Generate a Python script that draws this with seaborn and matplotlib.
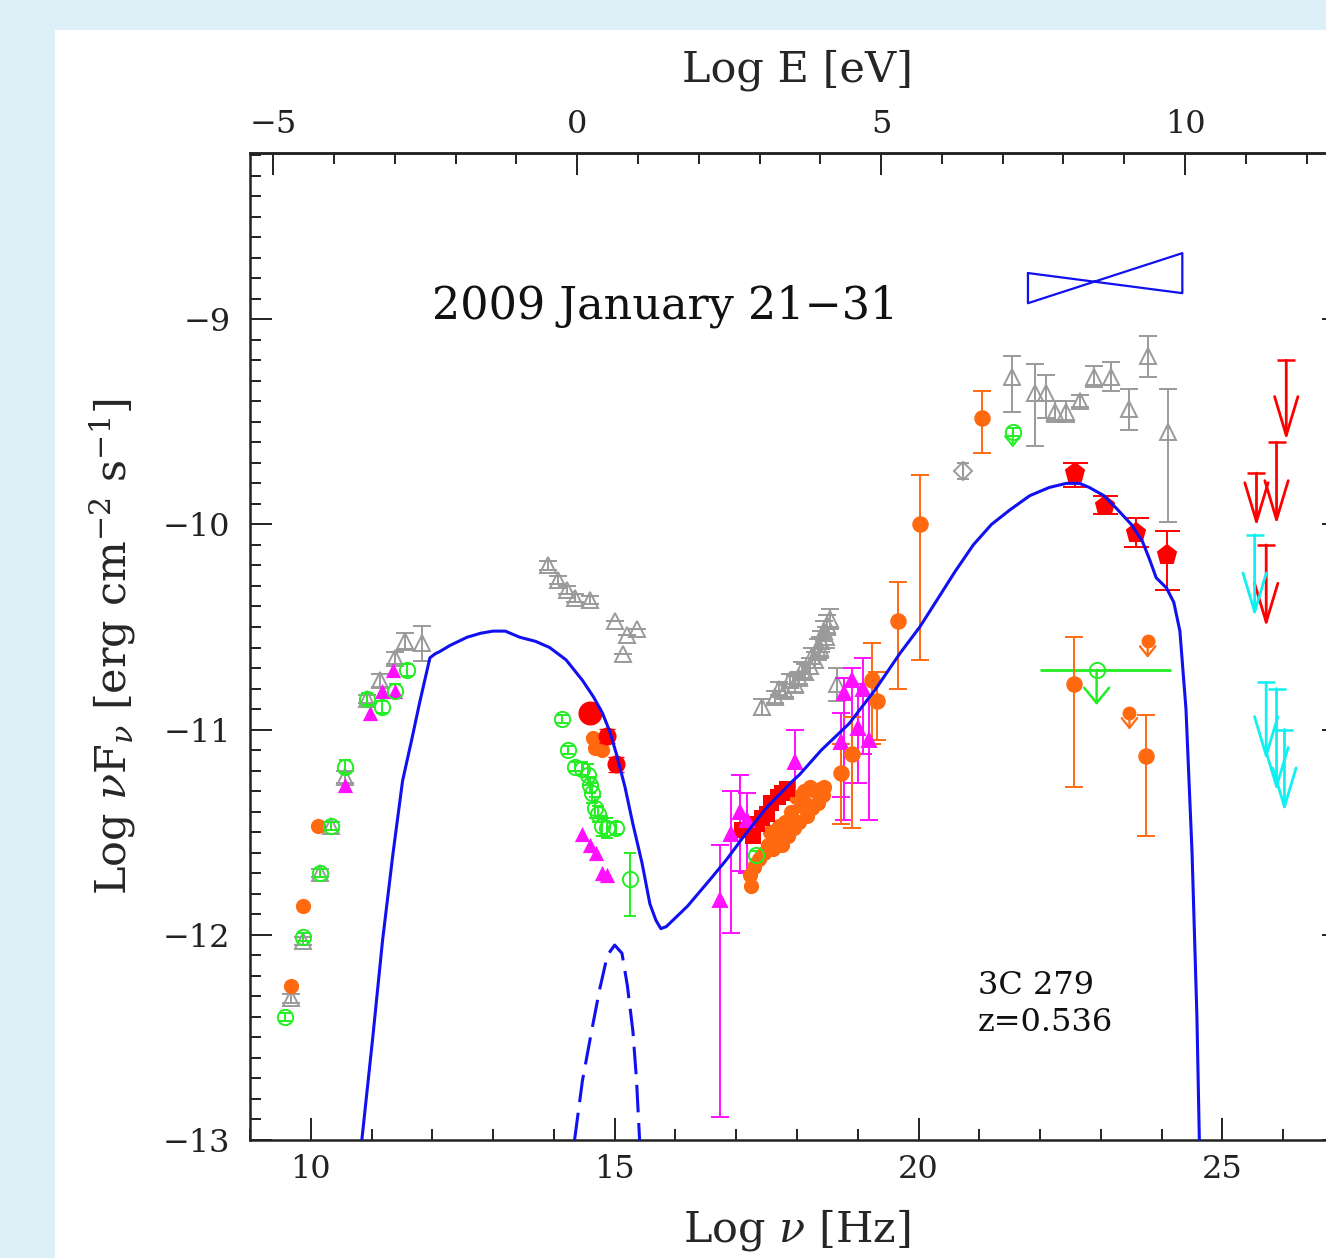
import numpy as np
import matplotlib
matplotlib.use("Agg")
import matplotlib.pyplot as plt
import seaborn as sns
from matplotlib.patches import Rectangle
from matplotlib.ticker import MultipleLocator, FixedLocator

sns.set_theme(style="ticks")
plt.rcParams['font.family'] = ['DejaVu Serif']
plt.rcParams['mathtext.fontset'] = 'dejavuserif'

LOG_HZ_PER_EV = 14.383

# ---------------- data ----------------
# model (synchrotron + inverse Compton), log nu vs log nuFnu
model_nu = [10.84, 11.02, 11.18, 11.35, 11.51, 11.66, 11.79, 11.96, 12.05, 12.12, 12.29, 12.57, 12.80,
            13.00, 13.20, 13.44, 13.70, 13.93, 14.20, 14.47, 14.65, 14.80, 14.92, 15.03, 15.17, 15.30,
            15.45, 15.58, 15.68, 15.76, 15.85, 15.99, 16.20, 16.40, 16.60, 16.85, 17.10, 17.50, 17.93,
            18.04, 18.40, 18.86, 19.30, 19.69, 20.02, 20.30, 20.60, 20.90, 21.20, 21.50, 21.83, 22.15,
            22.43, 22.65, 22.81, 23.05, 23.25, 23.50, 23.68, 23.80, 23.91, 24.08, 24.20, 24.30, 24.40,
            24.50, 24.58, 24.62]
model_f = [-13.0, -12.50, -12.03, -11.61, -11.25, -11.05, -10.87, -10.65, -10.63, -10.62, -10.59, -10.55, -10.53,
           -10.52, -10.52, -10.55, -10.57, -10.60, -10.66, -10.76, -10.84, -10.92, -11.01, -11.12, -11.28, -11.46,
           -11.65, -11.85, -11.93, -11.97, -11.96, -11.92, -11.86, -11.79, -11.72, -11.63, -11.53, -11.38, -11.25,
           -11.22, -11.10, -10.97, -10.80, -10.63, -10.50, -10.37, -10.23, -10.10, -10.00, -9.93, -9.86, -9.82,
           -9.80, -9.80, -9.82, -9.86, -9.92, -10.00, -10.08, -10.17, -10.26, -10.31, -10.38, -10.52, -10.90,
           -11.60, -12.40, -13.0]
# accretion disk component (dashed)
disk_nu = [14.34, 14.47, 14.62, 14.75, 14.88, 15.00, 15.12, 15.21, 15.30, 15.36, 15.41]
disk_f = [-13.0, -12.71, -12.47, -12.27, -12.10, -12.05, -12.09, -12.25, -12.47, -12.71, -13.0]

# Fermi bow-tie
bow_nu = [21.80, 24.34]
bow_hi = [-8.775, -8.678]
bow_lo = [-8.922, -8.873]

# archival data (grey open triangles)
gray_nu = [9.67, 9.88, 10.15, 10.33, 10.56, 10.92, 11.14, 11.38, 11.55, 11.83,
           13.90, 14.06, 14.21, 14.34, 14.59, 15.00, 15.13, 15.20, 15.36,
           17.43, 17.63, 17.80, 17.96, 18.04, 18.13, 18.21, 18.29, 18.34, 18.40, 18.45, 18.50, 18.54, 18.65,
           17.70, 17.88, 18.08, 18.25, 18.38, 18.47,
           21.53, 21.91, 22.10, 22.24, 22.43, 22.65, 22.89, 23.17, 23.47, 23.77, 24.11]
gray_f = [-12.31, -12.03, -11.70, -11.47, -11.23, -10.85, -10.76, -10.65, -10.57, -10.58,
          -10.20, -10.27, -10.32, -10.36, -10.37, -10.47, -10.63, -10.54, -10.51,
          -10.89, -10.84, -10.81, -10.78, -10.75, -10.72, -10.69, -10.66, -10.61, -10.57, -10.52, -10.49, -10.46, -10.78,
          -10.80, -10.76, -10.71, -10.64, -10.60, -10.55,
          -9.28, -9.36, -9.36, -9.45, -9.45, -9.40, -9.28, -9.28, -9.44, -9.18, -9.55]
gray_elo = [0.02, 0.02, 0.02, 0.02, 0.03, 0.02, 0.03, 0.03, 0.04, 0.085,
            0.02, 0.02, 0.02, 0.02, 0.02, 0.0, 0.0, 0.0, 0.0,
            0.04, 0.03, 0.03, 0.04, 0.03, 0.04, 0.04, 0.04, 0.05, 0.05, 0.05, 0.05, 0.05, 0.08,
            0.03, 0.03, 0.04, 0.04, 0.05, 0.05,
            0.17, 0.26, 0.12, 0.05, 0.05, 0.03, 0.05, 0.07, 0.10, 0.10, 0.44]
gray_ehi = [0.02, 0.02, 0.02, 0.02, 0.03, 0.02, 0.03, 0.03, 0.04, 0.085,
            0.02, 0.02, 0.02, 0.02, 0.02, 0.0, 0.0, 0.0, 0.0,
            0.04, 0.03, 0.03, 0.04, 0.03, 0.04, 0.04, 0.04, 0.05, 0.05, 0.05, 0.05, 0.05, 0.08,
            0.03, 0.03, 0.04, 0.04, 0.05, 0.05,
            0.10, 0.14, 0.09, 0.05, 0.05, 0.03, 0.05, 0.07, 0.10, 0.10, 0.21]
graydiam_nu = [20.73]
graydiam_f = [-9.74]

# green open circles
green_nu = [9.57, 9.88, 10.15, 10.33, 10.56, 10.92, 11.18, 11.38, 11.58,
            14.13, 14.23, 14.34, 14.46, 14.56, 14.59, 14.62, 14.67, 14.72, 14.79, 14.87, 15.03, 15.25,
            17.33]
green_f = [-12.40, -12.01, -11.70, -11.47, -11.18, -10.85, -10.89, -10.81, -10.71,
           -10.95, -11.10, -11.18, -11.19, -11.22, -11.27, -11.31, -11.38, -11.41, -11.47, -11.48, -11.48, -11.73,
           -11.61]
green_elo = [0.02, 0.02, 0.02, 0.02, 0.03, 0.03, 0.03, 0.03, 0.03,
             0.02, 0.02, 0.02, 0.03, 0.05, 0.04, 0.05, 0.05, 0.04, 0.05, 0.05, 0.03, 0.18,
             0.02]
green_ehi = [0.02, 0.02, 0.02, 0.02, 0.03, 0.03, 0.03, 0.03, 0.03,
             0.02, 0.02, 0.02, 0.03, 0.05, 0.04, 0.05, 0.05, 0.04, 0.05, 0.05, 0.03, 0.13,
             0.02]
green_ul_nu = [21.55]
green_ul_f = [-9.55]
comptel_nu = [22.93]
comptel_f = [-10.71]
comptel_nu_lo = [21.99]
comptel_nu_hi = [24.16]
comptel_tip = [-10.88]

# magenta filled triangles (no error bars)
mag_nu = [10.56, 10.97, 11.17, 11.38, 11.35, 14.47, 14.59, 14.70, 14.79, 14.87]
mag_f = [-11.27, -10.92, -10.81, -10.81, -10.71, -11.51, -11.56, -11.60, -11.70, -11.71]
# magenta with error bars
mage_nu = [16.73, 16.91, 17.06, 17.17, 17.96, 18.73, 18.78, 18.90, 19.00, 19.08, 19.19]
mage_f = [-11.83, -11.51, -11.40, -11.44, -11.16, -11.06, -10.82, -10.76, -10.99, -10.80, -11.05]
mage_hi = [-11.56, -11.30, -11.22, -11.31, -11.00, -10.92, -10.75, -10.70, -10.78, -10.65, -10.83]
mage_lo = [-12.89, -11.99, -11.69, -11.70, -11.45, -11.33, -11.44, -11.26, -11.26, -11.12, -11.44]

# orange filled circles (no error bars)
org_nu = [9.67, 9.88, 10.12, 14.64, 14.67, 14.79, 14.72,
          17.22, 17.30, 17.38, 17.45, 17.52, 17.55, 17.60, 17.65, 17.70, 17.76, 17.80, 17.85, 17.90,
          17.95, 17.99, 18.04, 18.08, 18.12, 18.17, 18.21, 18.25, 18.30, 18.34, 18.38, 18.42, 18.45,
          18.13, 17.72, 17.88, 17.25]
org_f = [-12.25, -11.86, -11.47, -11.04, -11.09, -11.10, -11.07,
         -11.71, -11.67, -11.63, -11.60, -11.56, -11.50, -11.58, -11.52, -11.47, -11.56, -11.45, -11.52, -11.40,
         -11.48, -11.33, -11.45, -11.37, -11.30, -11.42, -11.28, -11.38, -11.30, -11.36, -11.29, -11.32, -11.28,
         -11.36, -11.53, -11.46, -11.76]
# orange with error bars
orge_nu = [18.73, 18.90, 19.24, 19.31, 19.66, 20.02, 21.04, 22.55, 23.75]
orge_f = [-11.21, -11.12, -10.76, -10.86, -10.47, -10.00, -9.48, -10.78, -11.13]
orge_hi = [-11.07, -10.94, -10.58, -10.72, -10.28, -9.76, -9.35, -10.55, -10.93]
orge_lo = [-11.46, -11.48, -11.07, -11.05, -10.80, -10.66, -9.65, -11.28, -11.52]
# orange upper limits
orgul_nu = [23.47, 23.77]
orgul_f = [-10.92, -10.57]

# red data
redbig_nu = [14.59]
redbig_f = [-10.92]
redc_nu = [14.88, 15.03]
redc_f = [-11.03, -11.17]
redsq_nu = [17.10, 17.22, 17.28, 17.35, 17.42, 17.50, 17.58, 17.68, 17.75, 17.83]
redsq_f = [-11.49, -11.49, -11.52, -11.46, -11.43, -11.41, -11.36, -11.33, -11.31, -11.29]
lat_nu = [22.57, 23.06, 23.58, 24.08]
lat_f = [-9.75, -9.91, -10.04, -10.15]
lat_hi = [-9.70, -9.86, -9.97, -10.03]
lat_lo = [-9.82, -9.95, -10.11, -10.32]

# TeV upper limits (arrows)
redul_nu = [26.05, 25.89, 25.56, 25.72]
redul_top = [-9.20, -9.60, -9.75, -10.10]
redul_tip = [-9.59, -10.00, -10.01, -10.50]
cyul_nu = [25.53, 25.72, 25.89, 26.02]
cyul_top = [-10.05, -10.77, -10.80, -11.00]
cyul_tip = [-10.45, -11.15, -11.30, -11.40]

# colours
C_BLUE = '#1010f0'
C_GRAY = '#9a9a9a'
C_GREEN = '#22ee22'
C_MAG = '#ff10ff'
C_ORG = '#ff6a10'
C_RED = '#ff0000'
C_CYAN = '#10f0f0'

# ---------------- figure ----------------
W, H = 1326, 1258
fig = plt.figure(figsize=(W / 100, H / 100), dpi=100)
fig.patch.set_facecolor('#ddeff7')
fig.patches.append(Rectangle((55 / W, 0), 1, (H - 30) / H, transform=fig.transFigure,
                             facecolor='white', edgecolor='none', zorder=-10))
ax = fig.add_axes([250 / W, 118 / H, 1094 / W, 987 / H])
ax.set_facecolor('white')

def ebar(x, y, lo, hi, color, marker, ms, mfc, z=3, cap=6.5, lw=1.4):
    y = np.asarray(y, float)
    yerr = [y - np.asarray(lo, float), np.asarray(hi, float) - y]
    ax.errorbar(x, y, yerr=yerr, fmt=marker, color=color, mfc=mfc, mec=color, ms=ms,
                capsize=cap, elinewidth=lw, capthick=lw, mew=1.4, zorder=z)

# grey archival
gy = np.asarray(gray_f)
ebar(gray_nu, gy, gy - np.asarray(gray_elo), gy + np.asarray(gray_ehi), C_GRAY, '^', 12, 'none', z=2)
ax.errorbar(graydiam_nu, graydiam_f, yerr=0.04, fmt='D', color=C_GRAY, mfc='none', ms=9,
            capsize=4, mew=1.4, zorder=2)

# green
gr = np.asarray(green_f)
ebar(green_nu, gr, gr - np.asarray(green_elo), gr + np.asarray(green_ehi), C_GREEN, 'o', 11, 'none', z=3, cap=4.5)
ax.errorbar(green_ul_nu, green_ul_f, yerr=0.02, fmt='o', color=C_GREEN, mfc='none', ms=11, capsize=4,
            mew=1.4, zorder=3)
ax.errorbar(comptel_nu, comptel_f,
            xerr=[np.subtract(comptel_nu, comptel_nu_lo), np.subtract(comptel_nu_hi, comptel_nu)],
            fmt='o', color=C_GREEN, mfc='none', ms=11, mew=1.4, elinewidth=2, capsize=0, zorder=3)
for x, y, t in zip(comptel_nu, comptel_f, comptel_tip):
    ax.annotate('', xy=(x, t), xytext=(x, y), zorder=3,
                arrowprops=dict(arrowstyle='->,head_length=0.55,head_width=0.45', color=C_GREEN, lw=1.8,
                                shrinkA=0, shrinkB=0, mutation_scale=20))
for x, y in zip(green_ul_nu, green_ul_f):
    ax.annotate('', xy=(x, y - 0.075), xytext=(x, y), zorder=3,
                arrowprops=dict(arrowstyle='->,head_length=0.5,head_width=0.4', color=C_GREEN, lw=1.4,
                                shrinkA=0, shrinkB=0, mutation_scale=14))

# magenta
sns.scatterplot(x=mag_nu, y=mag_f, marker='^', s=120, color=C_MAG, edgecolor=C_MAG, linewidth=0,
                ax=ax, legend=False, zorder=3)
ebar(mage_nu, mage_f, mage_lo, mage_hi, C_MAG, '^', 10, C_MAG, z=3)

# orange
sns.scatterplot(x=org_nu, y=org_f, marker='o', s=120, color=C_ORG, edgecolor=C_ORG, linewidth=0,
                ax=ax, legend=False, zorder=3)
ebar(orge_nu, orge_f, orge_lo, orge_hi, C_ORG, 'o', 10.5, C_ORG, z=3)
sns.scatterplot(x=orgul_nu, y=orgul_f, marker='o', s=100, color=C_ORG, edgecolor=C_ORG, linewidth=0,
                ax=ax, legend=False, zorder=3)
for x, y in zip(orgul_nu, orgul_f):
    ax.annotate('', xy=(x, y - 0.08), xytext=(x, y), zorder=3,
                arrowprops=dict(arrowstyle='->,head_length=0.5,head_width=0.4', color=C_ORG, lw=1.6,
                                shrinkA=0, shrinkB=0, mutation_scale=14))

# red
sns.scatterplot(x=redbig_nu, y=redbig_f, marker='o', s=300, color=C_RED, edgecolor=C_RED, linewidth=0,
                ax=ax, legend=False, zorder=3)
ax.errorbar(redc_nu, redc_f, yerr=0.035, fmt='o', color=C_RED, ms=12, capsize=6, zorder=3)
sns.scatterplot(x=redsq_nu, y=redsq_f, marker='s', s=120, color=C_RED, edgecolor=C_RED, linewidth=0,
                ax=ax, legend=False, zorder=3)
ebar(lat_nu, lat_f, lat_lo, lat_hi, C_RED, 'p', 14, C_RED, z=3, cap=9)

# TeV upper limits
def ul_arrows(xs, tops, tips, color):
    for x, t, b in zip(xs, tops, tips):
        ax.annotate('', xy=(x, b), xytext=(x, t), zorder=3,
                    arrowprops=dict(arrowstyle='->,head_length=1.4,head_width=0.42', color=color, lw=2.0,
                                    shrinkA=0, shrinkB=0, mutation_scale=20))
    ax.plot(xs, tops, ls='none', marker='_', ms=13, mew=1.8, color=color, zorder=3)

ul_arrows(redul_nu, redul_top, redul_tip, C_RED)
ul_arrows(cyul_nu, cyul_top, cyul_tip, C_CYAN)

# model curves
sns.lineplot(x=model_nu, y=model_f, sort=False, estimator=None, color=C_BLUE, lw=2.2, ax=ax, zorder=5)
sns.lineplot(x=disk_nu, y=disk_f, sort=False, estimator=None, color=C_BLUE, lw=2.2, ax=ax, zorder=5)
ax.lines[-1].set_dashes((9, 3.5))
# bow-tie
bx = [bow_nu[0], bow_nu[1], bow_nu[1], bow_nu[0], bow_nu[0]]
by = [bow_hi[0], bow_lo[1], bow_hi[1], bow_lo[0], bow_hi[0]]
ax.plot(bx, by, color=C_BLUE, lw=1.6, zorder=5)

# texts
ax.text(11.99, -8.935, '2009 January 21\u221231', fontsize=32, ha='left', va='center', color='#111111')
ax.text(20.97, -12.17, '3C 279\nz=0.536', fontsize=23, ha='left', va='top', linespacing=1.25,
        color='#111111')

# axes
ax.set_xlim(9, 27)
ax.set_ylim(-13, -8.19)
ax.xaxis.set_major_locator(FixedLocator([10, 15, 20, 25]))
ax.xaxis.set_minor_locator(MultipleLocator(1))
ax.yaxis.set_major_locator(MultipleLocator(1))
ax.yaxis.set_minor_locator(MultipleLocator(0.1))
ax.tick_params(which='both', direction='in', top=False, right=True, colors='#222222', width=1.4)
ax.tick_params(which='major', length=16, labelsize=23)
ax.tick_params(which='minor', length=8)
ax.tick_params(axis='x', which='major', pad=10)
ax.tick_params(axis='y', which='major', pad=14)
for s in ax.spines.values():
    s.set_linewidth(1.8)
    s.set_color('#222222')
    s.set_visible(True)

sec = ax.secondary_xaxis('top', functions=(lambda v: v - LOG_HZ_PER_EV, lambda e: e + LOG_HZ_PER_EV))
sec.xaxis.set_major_locator(FixedLocator([-5, 0, 5, 10]))
sec.xaxis.set_minor_locator(MultipleLocator(1))
sec.tick_params(which='both', direction='in', colors='#222222', width=1.4)
sec.tick_params(which='major', length=16, labelsize=23, pad=9)
sec.tick_params(which='minor', length=8)
sec.spines['top'].set_linewidth(1.8)
sec.set_xlabel('Log E [eV]', fontsize=31, labelpad=20)

ax.set_xlabel(r'Log $\nu$ [Hz]', fontsize=31, labelpad=16)
ax.set_ylabel(r'Log $\nu$F$_\nu$ [erg cm$^{-2}$ s$^{-1}$]', fontsize=31, labelpad=18)

fig.savefig('out.png', dpi=100, facecolor=fig.get_facecolor())
